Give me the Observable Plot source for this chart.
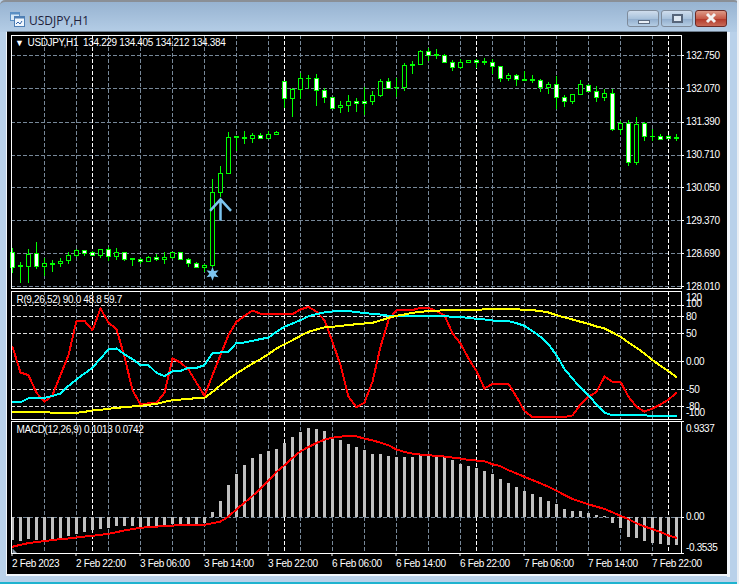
<!DOCTYPE html>
<html><head><meta charset="utf-8">
<style>
html,body{margin:0;padding:0;background:#fff;}
#win{position:relative;width:739px;height:584px;overflow:hidden;background:#b9d1ea;font-family:"Liberation Sans",sans-serif;}
#title{position:absolute;left:0;top:0;width:739px;height:32px;background:linear-gradient(#97b3d1,#b4cde6);box-sizing:border-box;border-top:2px solid #8a8f96;border-radius:5px 5px 0 0;}
#name{position:absolute;left:29px;top:12px;font:12px "Open Sans","Liberation Sans",sans-serif;color:#20203a;}
#black{position:absolute;left:7px;top:32px;width:720px;height:542px;background:#000;}
#edgeT{position:absolute;left:7px;top:31px;width:720px;height:1px;background:#6d7c8c;}
#edgeR{position:absolute;left:727px;top:32px;width:3px;height:545px;background:#f2f6fb;}
#edgeB{position:absolute;left:7px;top:574px;width:723px;height:2px;background:#f2f6fb;}
#edgeL{position:absolute;left:6px;top:32px;width:1px;height:544px;background:#f2f6fb;}
#teal{position:absolute;left:0;top:582px;width:739px;height:2px;background:#1fb3cf;}
#rim{position:absolute;left:737px;top:0;width:2px;height:584px;background:#e9eef4;}
.b{position:absolute;top:10px;height:17px;box-sizing:border-box;border:1px solid #7e8b9b;border-radius:3px;background:linear-gradient(#cfdded,#a9c2dc 50%,#93afce 55%,#b5cde4);}
#bx{background:linear-gradient(#dd9a88,#c65a48 50%,#b23a2b 55%,#c86a58);border-color:#6b2a26;}
svg.p{position:absolute;left:0;top:0;}
svg.p text{letter-spacing:-0.34px;}
</style>
<script src="https://cdn.jsdelivr.net/npm/d3@7"></script>
<script src="https://cdn.jsdelivr.net/npm/@observablehq/plot@0.6"></script>
</head><body>
<div id="win">
 <div id="title"></div>
 <svg style="position:absolute;left:10px;top:12px" width="15" height="15"><rect x="0.5" y="0.5" width="9" height="8" fill="#d7e8f7" stroke="#5a8fc4"/><rect x="0.5" y="0.5" width="9" height="2" fill="#5a8fc4"/><rect x="4.5" y="4.5" width="10" height="10" fill="#f0f6fc" stroke="#4f7fb4"/><rect x="4.5" y="4.5" width="10" height="2" fill="#4f7fb4"/><path d="M6 12l2-2 2 2 2-3" fill="none" stroke="#2f62a8"/></svg>
 <div id="name">USDJPY,H1</div>
 <div class="b" style="left:627px;width:32px"><div style="position:absolute;left:10px;top:9px;width:10px;height:3px;background:#e9eff6;border:1px solid #5d6c80;box-sizing:content-box;height:2px"></div></div>
 <div class="b" style="left:661px;width:32px"><div style="position:absolute;left:10px;top:3px;width:7px;height:5px;border:2px solid #56657a;background:#dfe8f2"></div></div>
 <div class="b" id="bx" style="left:695px;width:32px"><svg width="30" height="15" style="position:absolute;left:0;top:0"><path d="M11 3l8 8M19 3l-8 8" stroke="#f3f3f3" stroke-width="3"/></svg></div>
 <div id="edgeL"></div><div id="edgeT"></div><div id="black"></div><div id="edgeR"></div><div id="edgeB"></div><div id="teal"></div><div id="rim"></div>
</div>
<script>
const opens=[128.70,128.41,128.42,128.68,128.42,128.46,128.48,128.54,128.64,128.74,128.70,128.65,128.76,128.63,128.70,128.58,128.56,128.51,128.60,128.56,128.60,128.70,128.56,128.48,128.39,128.44,129.93,130.33,131.07,131.07,131.04,131.11,131.05,131.13,132.22,131.87,132.05,132.27,132.27,132.03,131.88,131.68,131.72,131.80,131.80,131.80,131.92,132.22,132.08,132.09,132.55,132.56,132.82,132.76,132.74,132.60,132.50,132.60,132.65,132.61,132.60,132.52,132.28,132.34,132.26,132.26,132.24,132.09,132.15,131.88,131.81,131.95,132.13,132.00,131.89,131.96,131.23,131.35,130.55,131.35,131.09,131.08,131.09,131.06];
const highs=[128.79,128.50,128.78,128.91,128.60,128.55,128.60,128.71,128.77,128.75,128.73,128.77,128.81,128.79,128.71,128.58,128.60,128.64,128.67,128.71,128.72,128.71,128.60,128.50,128.46,130.21,130.48,131.18,131.09,131.19,131.16,131.16,131.20,131.19,132.22,132.07,132.39,132.34,132.37,132.07,131.90,131.81,131.93,131.87,132.09,132.02,132.27,132.28,132.29,132.59,132.64,132.86,132.91,132.89,132.77,132.65,132.67,132.65,132.68,132.69,132.67,132.54,132.38,132.37,132.42,132.34,132.26,132.20,132.32,131.94,131.96,132.24,132.17,132.13,132.06,132.05,131.40,131.42,131.48,131.39,131.23,131.13,131.11,131.13];
const lows=[128.29,128.07,128.08,128.36,128.22,128.31,128.41,128.47,128.62,128.64,128.63,128.59,128.54,128.55,128.54,128.43,128.47,128.50,128.53,128.47,128.58,128.55,128.41,128.38,128.31,128.41,129.85,130.33,130.79,130.94,130.96,131.03,131.04,131.12,131.66,131.49,131.85,132.05,131.72,131.78,131.64,131.57,131.59,131.59,131.53,131.73,131.90,132.05,131.89,132.02,132.37,132.55,132.63,132.67,132.59,132.43,132.46,132.59,132.50,132.55,132.37,132.21,132.23,132.12,132.22,132.18,132.00,131.96,131.65,131.68,131.75,131.94,132.00,131.80,131.81,131.20,131.11,130.47,130.49,130.99,131.00,131.02,131.03,131.00];
const closes=[128.40,128.43,128.67,128.42,128.47,128.48,128.52,128.65,128.75,128.69,128.65,128.76,128.63,128.71,128.56,128.57,128.52,128.60,128.56,128.61,128.70,128.57,128.48,128.40,128.44,129.94,130.33,131.07,131.08,131.05,131.11,131.05,131.13,131.17,131.87,132.05,132.27,132.28,132.03,131.89,131.66,131.72,131.80,131.77,131.77,131.92,132.22,132.07,132.09,132.54,132.57,132.83,132.75,132.74,132.60,132.50,132.60,132.64,132.61,132.62,132.52,132.28,132.34,132.26,132.24,132.24,132.09,132.15,131.89,131.81,131.94,132.15,132.01,131.89,131.97,131.23,131.35,130.55,131.33,131.09,131.08,131.03,131.05,131.05];
const priceTicks=[128.01,128.69,129.37,130.05,130.71,131.39,132.07,132.75];

const rsiFast=[26.1,-19.6,-24.3,-55.6,-71.7,-59.7,-24.3,11.3,72.3,72.3,55.6,94.2,68.8,57.5,8.2,-51,-76.4,-74.2,-73.5,-55.6,5.4,-1.8,-14.2,-37.9,-61.1,-24.3,11.3,46.9,70.6,81.2,90.6,84.8,84.2,84.2,84.2,84.2,92.5,97.2,88.3,73.5,35,-6.5,-62.8,-81.2,-72.9,-36,26.1,73.5,91.3,91.3,91.3,95.5,95.5,89.5,82.4,49.7,31.9,5.4,-17.2,-48,-39.8,-39.8,-39.8,-62.8,-88.3,-98.9,-98.9,-98.9,-98.9,-98.9,-95.8,-76.4,-62.8,-54,-26.7,-36,-36,-62.8,-80.6,-88.9,-83.5,-76.4,-67.6,-55.7];
const rsiMid=[-72.3,-72.3,-65.2,-64.6,-64.6,-61.1,-56.9,-43.3,-32,-21.3,-11.2,5.4,21.3,23.1,12.5,4.1,-6.5,-6.5,-20.2,-26.1,-17.2,-16.6,-11.2,-11.2,-6.5,14.8,16,17.2,33.2,33.8,36.8,39.8,42.6,52.7,61.7,67.6,73.5,80.6,84.2,87.1,88.9,90.1,89.5,87.8,85.9,84.8,83.5,81.2,81.2,81.2,81.2,81.2,81.2,81.2,80.6,79.4,78.8,77.7,75.9,74.7,72.9,72.3,71.7,68.2,63.4,54,43.9,30.3,11.2,-13.6,-30.3,-46.9,-59.8,-76.4,-91.3,-95.5,-95.5,-95.5,-95.5,-95.5,-97.2,-97.2,-97.2,-97.2];
const rsiSlow=[-89.5,-89.5,-89.5,-89.5,-89.5,-91.3,-91.3,-91.3,-91.3,-89.5,-87.1,-85.9,-84.2,-82.4,-81.2,-80,-78.8,-77,-75.3,-71.7,-68.8,-67.6,-66.4,-65.2,-64.6,-54,-42.1,-31.4,-21.3,-12.5,-3.6,4.1,13.1,23.1,30.8,37.9,45.6,52.7,56.9,60.5,61.7,63.4,64.6,66.4,67.6,68.8,72.9,77.7,81.2,83.5,86.5,88.3,89.5,90.1,91.3,91.3,91.3,91.3,91.3,92.8,93.3,93.3,93.3,92.8,91.9,91.3,89.5,87.1,82.4,78.3,74.7,70.6,67,62.2,58.7,51.5,43.9,33.8,24.3,14.2,2.4,-7.7,-17.2,-27.8];
const rsiLevels=[100,80,50,0,-50,-80];
const rsiPlainLabels=[80,50,0,-50,-80];

const macdBars=[-0.226,-0.236,-0.220,-0.230,-0.226,-0.213,-0.210,-0.191,-0.165,-0.145,-0.129,-0.116,-0.107,-0.094,-0.094,-0.094,-0.097,-0.097,-0.091,-0.087,-0.071,-0.078,-0.068,-0.068,-0.065,0.042,0.158,0.314,0.420,0.508,0.575,0.611,0.643,0.663,0.721,0.779,0.828,0.863,0.854,0.837,0.782,0.750,0.711,0.682,0.647,0.614,0.614,0.595,0.579,0.585,0.585,0.605,0.595,0.585,0.579,0.550,0.517,0.498,0.478,0.449,0.420,0.372,0.333,0.294,0.255,0.226,0.188,0.158,0.120,0.071,0.052,0.052,0.032,0.013,0.003,-0.065,-0.113,-0.200,-0.210,-0.239,-0.259,-0.268,-0.278,-0.278];
const macdSignal=[-0.288,-0.268,-0.252,-0.242,-0.233,-0.223,-0.213,-0.207,-0.197,-0.188,-0.181,-0.171,-0.162,-0.145,-0.129,-0.116,-0.103,-0.097,-0.091,-0.087,-0.081,-0.078,-0.074,-0.074,-0.074,-0.058,-0.042,0.006,0.078,0.142,0.207,0.281,0.356,0.443,0.508,0.579,0.643,0.685,0.724,0.757,0.776,0.786,0.792,0.789,0.766,0.750,0.727,0.702,0.660,0.637,0.621,0.611,0.605,0.598,0.592,0.582,0.572,0.559,0.553,0.546,0.517,0.498,0.459,0.427,0.394,0.362,0.330,0.297,0.259,0.217,0.178,0.152,0.126,0.103,0.081,0.048,0.013,-0.019,-0.058,-0.091,-0.116,-0.145,-0.178,-0.200];

const gridBars=[4,8,12,16,20,24,28,32,36,40,44,48,52,56,60,64,68,72,76,80];
const daySeparators=[10,34,58,82];
const dateBars=[0,8,16,24,32,40,48,56,64,72,80];
const dateLabels=["2 Feb 2023","2 Feb 22:00","3 Feb 06:00","3 Feb 14:00","3 Feb 22:00","6 Feb 06:00","6 Feb 14:00","6 Feb 22:00","7 Feb 06:00","7 Feb 14:00","7 Feb 22:00"];
const titleMain="USDJPY,H1\u00a0\u00a0134.229 134.405 134.212 134.384";
const titleRsi="R(9,26,52) 90.0 48.8 59.7";
const titleMacd="MACD(12,26,9) 0.1013 0.0742";

const GRID="#778899",GREEN="#00ff00",MARK="#7cc4ee";
const bars=opens.map((o,i)=>({i,o,h:highs[i],l:lows[i],c:closes[i]}));
const idx=a=>a.map((v,i)=>({i,v}));
const crisp={shapeRendering:"crispEdges"};

const starSymbol={draw(ctx,size){const R=Math.sqrt(size/Math.PI),r=R*0.45;
  for(let k=0;k<12;k++){const a=k*Math.PI/6-Math.PI/2,q=k%2?r:R,x=q*Math.cos(a),y=q*Math.sin(a);k?ctx.lineTo(x,y):ctx.moveTo(x,y);}ctx.closePath();}};
const arrowSymbol={draw(ctx,size){const R=Math.sqrt(size/Math.PI);
  ctx.moveTo(-R,0.1*R);ctx.lineTo(0,-R);ctx.lineTo(R,0.1*R);ctx.moveTo(0,-R);ctx.lineTo(0,1.05*R);}};
const cornerSymbol={draw(ctx,size){const R=Math.sqrt(size/Math.PI);
  ctx.moveTo(0,-R);ctx.lineTo(R,0);ctx.lineTo(0,0);ctx.closePath();}};

const xScale={type:"linear",domain:[-0.125,83.625]};
const base=(top,bottom,dom)=>({
  width:739,height:584,marginLeft:11,marginRight:58,marginTop:top,marginBottom:584-bottom,
  x:{...xScale,axis:null},y:{domain:dom,axis:null},
  style:{background:"transparent",color:"#fff",fontFamily:"'Liberation Sans',sans-serif",fontSize:"10px",overflow:"visible"}
});
const vgrid=()=>[
  Plot.ruleX(gridBars,{stroke:GRID,strokeDasharray:"4,2",...crisp}),
  Plot.ruleX(daySeparators,{stroke:"#fff",strokeDasharray:"4,2",...crisp})
];
const rightLabels=(vals,fmt,dy=0)=>Plot.text(vals,{x:()=>83.625,y:d=>d,text:fmt,textAnchor:"start",dx:4.5,dy,fill:"#fff"});

const pMain=Plot.plot({...base(35,288,[127.976,133.167]),marks:[
  Plot.ruleY(priceTicks,{stroke:GRID,strokeDasharray:"4,2",...crisp}),
  ...vgrid(),
  Plot.ruleX(bars,{x:"i",y1:"l",y2:"h",stroke:GREEN,...crisp}),
  Plot.rect(bars,{x1:d=>d.i-0.25,x2:d=>d.i+0.25,y1:"o",y2:"c",fill:d=>d.c<d.o?"#fff":"#000",stroke:GREEN,...crisp}),
  Plot.dot([{i:26,p:129.59}],{x:"i",y:"p",r:10.5,symbol:arrowSymbol,stroke:MARK,strokeWidth:2.5,fill:"none"}),
  Plot.dot([{i:25,p:128.28}],{x:"i",y:"p",r:7,symbol:starSymbol,fill:MARK,stroke:"none"}),
  Plot.frame({stroke:"#fff"}),
  Plot.ruleY(priceTicks,{x1:83.625,x2:84.0,stroke:"#fff",...crisp}),
  rightLabels(priceTicks,d=>d.toFixed(3)),
  Plot.text(["▼"],{frameAnchor:"top-left",dx:3.5,dy:4,fontSize:9,fill:"#fff",lineAnchor:"top"}),
  Plot.text([titleMain],{frameAnchor:"top-left",dx:16,dy:3.5,fill:"#fff",lineAnchor:"top",text:d=>d})
]});

const pRsi=Plot.plot({...base(291,419,[-103.1,124.4]),marks:[
  Plot.ruleY(rsiLevels,{stroke:"#ddd",strokeDasharray:"4,2",...crisp}),
  ...vgrid(),
  Plot.line(idx(rsiFast),{x:"i",y:"v",stroke:"#ff0000",strokeWidth:2,...crisp}),
  Plot.line(idx(rsiMid),{x:"i",y:"v",stroke:"#00ffff",strokeWidth:2,...crisp}),
  Plot.line(idx(rsiSlow),{x:"i",y:"v",stroke:"#ffff00",strokeWidth:2,...crisp}),
  Plot.frame({stroke:"#fff"}),
  rightLabels(rsiPlainLabels,d=>d===0?"0.00":String(d)),
  rightLabels([120],d=>String(d),4),
  rightLabels([100],d=>String(d),-1),
  rightLabels([-100],d=>String(d),-5),
  Plot.ruleY(rsiLevels,{x1:83.625,x2:84.0,stroke:"#fff",...crisp}),
  Plot.text([titleRsi],{frameAnchor:"top-left",dx:5,dy:4,fill:"#fff",lineAnchor:"top",text:d=>d})
]});

const pMacd=Plot.plot({...base(421,553,[-0.3535,0.9337]),marks:[
  Plot.ruleY([0],{stroke:GRID,strokeDasharray:"4,2",...crisp}),
  ...vgrid(),
  Plot.ruleX(idx(macdBars),{x:"i",y1:()=>0,y2:"v",stroke:"#c0c0c0",strokeWidth:3,...crisp}),
  Plot.line(idx(macdSignal),{x:"i",y:"v",stroke:"#ff0000",strokeWidth:2,...crisp}),
  Plot.dot([{i:0,v:-0.3535}],{x:"i",y:"v",r:5,symbol:cornerSymbol,fill:"#8a9aa8",stroke:"none"}),
  Plot.frame({stroke:"#fff"}),
  rightLabels([0],()=>"0.00"),
  rightLabels([0.9337],d=>"0.9337",7),
  rightLabels([-0.3535],d=>"-0.3535",-6),
  Plot.ruleY([0,0.9337,-0.3535],{x1:83.625,x2:84.0,stroke:"#fff",...crisp}),
  Plot.text([titleMacd],{frameAnchor:"top-left",dx:5,dy:4,fill:"#fff",lineAnchor:"top",text:d=>d}),
  Plot.axisX(dateBars,{anchor:"bottom",tickSize:3,tickPadding:3,textAnchor:"start",tickFormat:d=>dateLabels[dateBars.indexOf(d)],stroke:"#fff",fill:"#fff",dx:-0.5,label:null})
]});

const win=document.getElementById("win");
for(const p of [pMain,pRsi,pMacd]){p.classList.add("p");p.style.position="absolute";p.style.left="0";p.style.top="0";win.appendChild(p);}
</script>
</body></html>
